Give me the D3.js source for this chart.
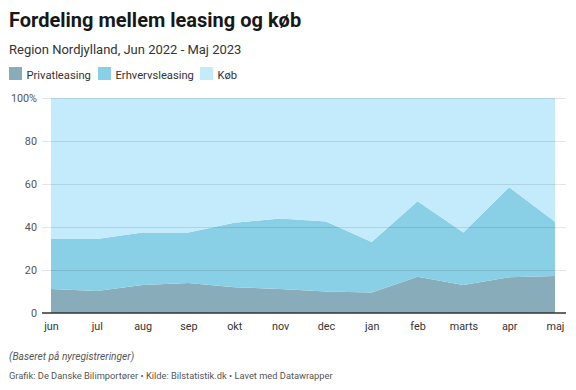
<!DOCTYPE html>
<html>
<head>
<meta charset="utf-8">
<script src="https://cdn.jsdelivr.net/npm/d3@7"></script>
<style>
  body { margin: 0; background: #fff; font-family: Roboto, "Noto Sans", sans-serif; }
  svg text { font-family: Roboto, "Noto Sans", sans-serif; }
</style>
</head>
<body>
<div id="chart-wrap"></div>
<script>
// months and series (percent of registrations)
var months = ["jun", "jul", "aug", "sep", "okt", "nov", "dec", "jan", "feb", "marts", "apr", "maj"];
var privatleasing = [11.2, 10.2, 13.0, 14.0, 12.0, 11.2, 10.0, 9.5, 16.9, 13.0, 16.6, 17.2];
var erhvervsleasing = [23.2, 24.2, 24.4, 23.4, 30.0, 32.7, 32.6, 23.5, 35.1, 24.4, 41.9, 25.3];
var koeb = [65.6, 65.6, 62.6, 62.6, 58.0, 56.1, 57.4, 67.0, 48.0, 62.6, 41.5, 57.5];
var seriesNames = ["Privatleasing", "Erhvervsleasing", "Køb"];
var colors = ["#88acba", "#89cfe5", "#c4ebfb"];
var yTicks = [0, 20, 40, 60, 80, 100];

var width = 576, height = 390;
var margin = { top: 98, right: 21, bottom: 77, left: 51 };
var w = width - margin.left - margin.right,
  h = height - margin.top - margin.bottom;

var svg = d3.select("#chart-wrap")
  .append("svg")
  .attr("width", width)
  .attr("height", height);

// header
svg.append("text").attr("x", 9).attr("y", 27)
  .attr("font-size", 20).attr("font-weight", 700).attr("fill", "#181818")
  .text("Fordeling mellem leasing og køb");
svg.append("text").attr("x", 9).attr("y", 54)
  .attr("font-size", 13).attr("fill", "#333")
  .text("Region Nordjylland, Jun 2022 - Maj 2023");

// legend
var legendX = [9, 98, 200];
var legend = svg.append("g").selectAll("g")
  .data(seriesNames)
  .join("g")
  .attr("transform", function(d, i) { return "translate(" + legendX[i] + ",67)"; });
legend.append("rect").attr("width", 13).attr("height", 13)
  .attr("fill", function(d, i) { return colors[i]; });
legend.append("text").attr("x", 17.5).attr("y", 11.5)
  .attr("font-size", 11.2).attr("fill", "#333")
  .text(function(d) { return d; });

var g = svg.append("g")
  .attr("transform", "translate(" + margin.left + "," + margin.top + ")");

var x = d3.scalePoint().domain(months).range([0, w]);
var y = d3.scaleLinear().domain([0, 100]).range([h, 0]);

var rows = months.map(function(m, i) {
  return { month: m, Privatleasing: privatleasing[i], Erhvervsleasing: erhvervsleasing[i], "Køb": koeb[i] };
});
var stack = d3.stack().keys(seriesNames).offset(d3.stackOffsetExpand);
var stacked = stack(rows);

var area = d3.area()
  .x(function(d) { return x(d.data.month); })
  .y0(function(d) { return y(d[0] * 100); })
  .y1(function(d) { return y(d[1] * 100); });

g.selectAll("path.area")
  .data(stacked)
  .join("path")
  .attr("class", "area")
  .attr("fill", function(d, i) { return colors[i]; })
  .attr("d", area);

// grid lines drawn over areas
var yAxis = d3.axisLeft(y)
  .tickValues(yTicks)
  .tickSize(-(w + 20))
  .tickFormat(function(d) { return d === 100 ? "100%" : d; });

var ya = g.append("g")
  .attr("transform", "translate(-9,0)")
  .call(yAxis);
ya.select(".domain").remove();
ya.selectAll(".tick line")
  .attr("stroke", "rgba(0,0,0,0.1)");
ya.selectAll(".tick text")
  .attr("x", -5)
  .attr("dy", "0.35em")
  .attr("font-size", 10.8).attr("fill", "#555");
ya.selectAll(".tick").filter(function(d) { return d === 0; }).select("line").remove();

// baseline
g.append("line")
  .attr("x1", -9).attr("x2", w + 11)
  .attr("y1", y(0)).attr("y2", y(0))
  .attr("stroke", "#333").attr("stroke-width", 1.5);

var xAxis = d3.axisBottom(x).tickSize(0).tickPadding(9);
var xa = g.append("g")
  .attr("transform", "translate(0," + h + ")")
  .call(xAxis);
xa.select(".domain").remove();
xa.selectAll(".tick text").attr("font-size", 10.8).attr("fill", "#333");

// footer
svg.append("text").attr("x", 9).attr("y", 360)
  .attr("font-size", 10.2).attr("font-style", "italic").attr("fill", "#555")
  .text("(Baseret på nyregistreringer)");
svg.append("text").attr("x", 9).attr("y", 379)
  .attr("font-size", 9.3).attr("fill", "#555")
  .text("Grafik: De Danske Bilimportører • Kilde: Bilstatistik.dk • Lavet med Datawrapper");
</script>
</body>
</html>
